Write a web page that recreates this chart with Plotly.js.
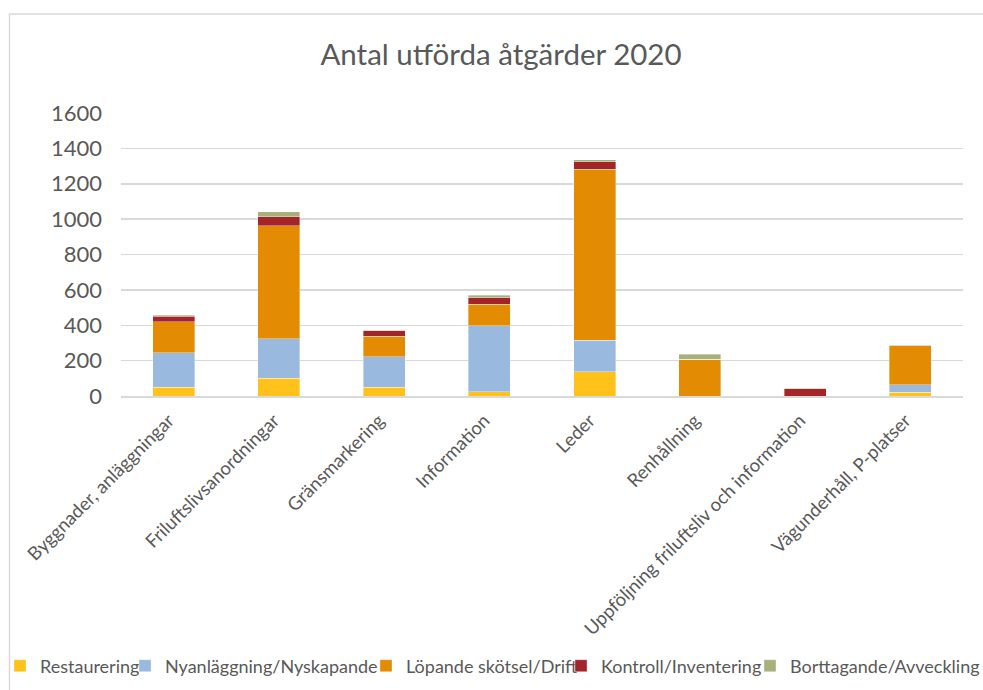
<!DOCTYPE html>
<html>
<head>
<meta charset="utf-8">
<script src="https://cdn.plot.ly/plotly-3.0.1.min.js"></script>
<style>
  html, body { margin: 0; padding: 0; background: #ffffff; }
  #chart { width: 983px; height: 690px; }
</style>
</head>
<body>
<div id="chart"></div>
<script>
const categories = [
  "Byggnader, anläggningar",
  "Friluftslivsanordningar",
  "Gränsmarkering",
  "Information",
  "Leder",
  "Renhållning",
  "Uppföljning friluftsliv och information",
  "Vägunderhåll, P-platser"
];
const seriesNames = [
  "Restaurering",
  "Nyanläggning/Nyskapande",
  "Löpande skötsel/Drift",
  "Kontroll/Inventering",
  "Borttagande/Avveckling"
];
const restaurering = [50, 100, 50, 25, 137, 0, 0, 20];
const nyanlaggning = [195, 224, 172, 372, 179, 0, 0, 43];
const lopande = [175, 638, 117, 123, 965, 209, 0, 220];
const kontroll = [32, 51, 30, 35, 43, 0, 40, 0];
const borttagande = [5, 28, 3, 16, 13, 28, 5, 4];
const yTicks = [0, 200, 400, 600, 800, 1000, 1200, 1400, 1600];
const chartTitle = "Antal utförda åtgärder 2020";

const colors = ["#FFC21A", "#9AB9DE", "#E28B03", "#A3252A", "#A8B07B"];
const allValues = [restaurering, nyanlaggning, lopande, kontroll, borttagande];

const FONT = "Lato, 'Open Sans', sans-serif";
const TXT = "#595959";

// plot area geometry (px)
const L = 121, R = 20, T = 113, B = 294, W = 983, H = 690;
const pw = W - L - R, ph = H - T - B;
const px2x = p => (p - L) / pw;
const py2y = p => (H - B - p) / ph;

const legendKeys = ["legend", "legend2", "legend3", "legend4", "legend5"];
const legendTextStart = [40, 165, 406, 601, 790];

const traces = seriesNames.map((name, i) => ({
  type: "bar",
  name: name,
  x: categories,
  y: allValues[i],
  marker: { color: colors[i], line: { color: "rgba(255,255,255,0.6)", width: 0.6 } },
  legend: legendKeys[i],
  hoverinfo: "x+y+name"
}));

const layout = {
  width: W, height: H,
  margin: { l: L, r: R, t: T, b: B, pad: 0 },
  paper_bgcolor: "#ffffff",
  plot_bgcolor: "#ffffff",
  barmode: "stack",
  bargap: 0.6,
  showlegend: true,
  font: { family: FONT, color: TXT },
  title: {
    text: chartTitle,
    font: { family: FONT, size: 29.5, color: TXT },
    x: 501 / W, xref: "container", xanchor: "center",
    y: 1 - 55 / H, yref: "container", yanchor: "middle"
  },
  xaxis: {
    type: "category",
    tickangle: -45,
    tickfont: { family: FONT, size: 18.5, color: TXT },
    showgrid: false,
    showline: true, linecolor: "#D9D9D9", linewidth: 1.5,
    ticks: "",
    ticklabelstandoff: 5,
    ticklabelshift: -5,
    fixedrange: true
  },
  yaxis: {
    range: [0, 1600],
    tickvals: yTicks,
    ticktext: yTicks.map(String),
    tickfont: { family: FONT, size: 22, color: TXT },
    showgrid: true, gridcolor: "#D9D9D9", gridwidth: 1.5,
    zeroline: false, showline: false,
    ticks: "",
    ticklabelstandoff: 18,
    fixedrange: true
  },
  shapes: [{
    type: "rect", xref: "paper", yref: "paper",
    x0: px2x(9.5), x1: px2x(1000), y0: py2y(720), y1: py2y(14),
    line: { color: "#D9D9D9", width: 1.5 }, fillcolor: "rgba(0,0,0,0)",
    layer: "below"
  }]
};

legendKeys.forEach((k, i) => {
  layout[k] = {
    visible: true,
    orientation: "h",
    xref: "container",
    yref: "container",
    x: (legendTextStart[i] - 40) / W,
    xanchor: "left",
    y: 1 - 666 / H,
    yanchor: "middle",
    bgcolor: "rgba(0,0,0,0)",
    borderwidth: 0,
    itemwidth: 30,
    font: { family: FONT, size: 18, color: TXT }
  };
});

Plotly.newPlot("chart", traces, layout, { displayModeBar: false, staticPlot: true });
</script>
</body>
</html>
